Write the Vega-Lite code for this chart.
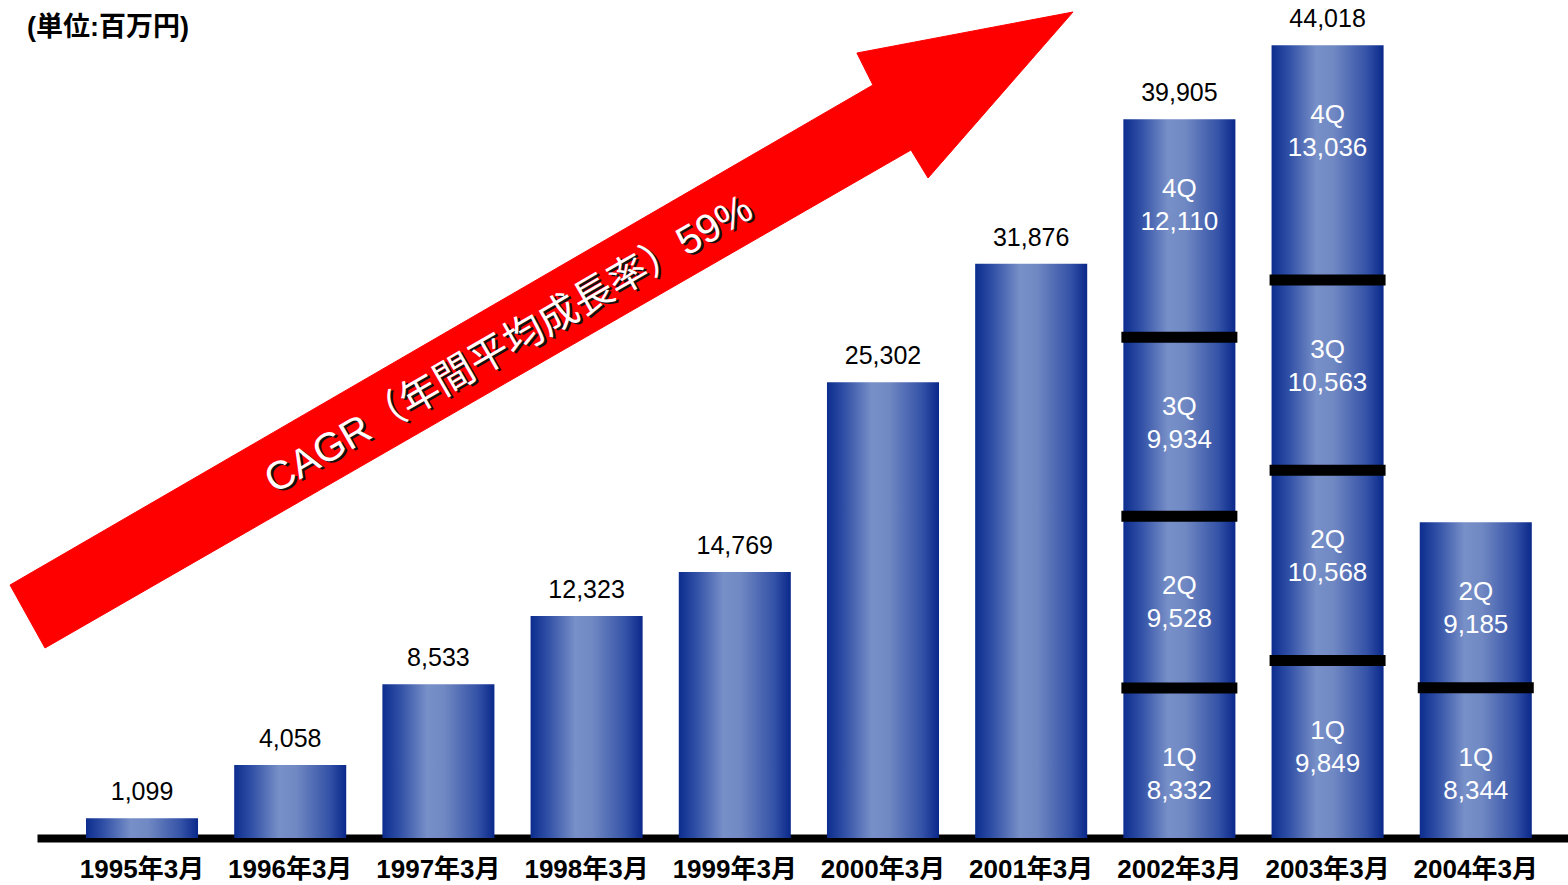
{
  "$schema": "https://vega.github.io/schema/vega-lite/v6.json",
  "width": 1531,
  "height": 838,
  "autosize": {"type": "none"},
  "padding": {"left": 37, "top": 0, "right": 0, "bottom": 47},
  "background": "white",
  "config": {"view": {"stroke": null}},
  "datasets": {
    "segments": [
      {"year": "1995年3月", "quarter": "通期", "value": 1099},
      {"year": "1996年3月", "quarter": "通期", "value": 4058},
      {"year": "1997年3月", "quarter": "通期", "value": 8533},
      {"year": "1998年3月", "quarter": "通期", "value": 12323},
      {"year": "1999年3月", "quarter": "通期", "value": 14769},
      {"year": "2000年3月", "quarter": "通期", "value": 25302},
      {"year": "2001年3月", "quarter": "通期", "value": 31876},
      {"year": "2002年3月", "quarter": "1Q", "value": 8332},
      {"year": "2002年3月", "quarter": "2Q", "value": 9528},
      {"year": "2002年3月", "quarter": "3Q", "value": 9934},
      {"year": "2002年3月", "quarter": "4Q", "value": 12110},
      {"year": "2003年3月", "quarter": "1Q", "value": 9849},
      {"year": "2003年3月", "quarter": "2Q", "value": 10568},
      {"year": "2003年3月", "quarter": "3Q", "value": 10563},
      {"year": "2003年3月", "quarter": "4Q", "value": 13036},
      {"year": "2004年3月", "quarter": "1Q", "value": 8344},
      {"year": "2004年3月", "quarter": "2Q", "value": 9185}
    ],
    "totals": [
      {"year": "1995年3月", "total": 1099},
      {"year": "1996年3月", "total": 4058},
      {"year": "1997年3月", "total": 8533},
      {"year": "1998年3月", "total": 12323},
      {"year": "1999年3月", "total": 14769},
      {"year": "2000年3月", "total": 25302},
      {"year": "2001年3月", "total": 31876},
      {"year": "2002年3月", "total": 39905},
      {"year": "2003年3月", "total": 44018}
    ],
    "arrow": [
      {"ord": 1, "px": 1994.113, "py": 14045},
      {"ord": 2, "px": 1999.935, "py": 41803},
      {"ord": 3, "px": 1999.827, "py": 43579},
      {"ord": 4, "px": 2001.285, "py": 45855},
      {"ord": 5, "px": 2000.307, "py": 36640},
      {"ord": 6, "px": 2000.192, "py": 38194},
      {"ord": 7, "px": 1994.349, "py": 10548},
      {"ord": 8, "px": 1994.113, "py": 14045}
    ],
    "cagr": [
      {"px": 1997.48, "py": 27369, "note": "CAGR（年間平均成長率）59%"}
    ],
    "unit": [
      {"px": 1994.227, "py": 44967, "note": "(単位:百万円)"}
    ]
  },
  "layer": [
    {
      "encoding": {
        "x": {
          "field": "year",
          "type": "nominal",
          "scale": {"paddingInner": 0.244, "paddingOuter": 0.2875, "align": 0.575},
          "axis": {
            "title": null,
            "labelAngle": 0,
            "labelFont": "Liberation Sans, Noto Sans CJK JP",
            "labelFontSize": 26,
            "labelFontWeight": "bold",
            "labelColor": "black",
            "labelPadding": 18,
            "ticks": false,
            "tickSize": 0,
            "domainColor": "black",
            "domainWidth": 8
          }
        }
      },
      "layer": [
        {
          "data": {"name": "segments"},
          "transform": [
            {"stack": "value", "groupby": ["year"], "sort": [{"field": "quarter", "order": "ascending"}], "as": ["v0", "v1"]}
          ],
          "mark": {
            "type": "bar",
            "fill": {
              "gradient": "linear",
              "x1": 0, "x2": 1, "y1": 0, "y2": 0,
              "stops": [
                {"offset": 0, "color": "#0c2d8e"},
                {"offset": 0.15, "color": "#2f4ea5"},
                {"offset": 0.4, "color": "#7890c8"},
                {"offset": 0.55, "color": "#7189c3"},
                {"offset": 0.85, "color": "#3452a7"},
                {"offset": 1, "color": "#09288a"}
              ]
            }
          },
          "encoding": {
            "y": {"field": "v1", "type": "quantitative", "scale": {"domain": [0, 46522], "nice": false, "zero": true}, "axis": null},
            "y2": {"field": "v0"}
          }
        },
        {
          "data": {"name": "segments"},
          "transform": [
            {"stack": "value", "groupby": ["year"], "sort": [{"field": "quarter", "order": "ascending"}], "as": ["v0", "v1"]},
            {"filter": "datum.v0 > 0"}
          ],
          "mark": {"type": "tick", "color": "black", "thickness": 11, "size": 116, "opacity": 1},
          "encoding": {
            "y": {"field": "v0", "type": "quantitative", "scale": {"domain": [0, 46522], "nice": false, "zero": true}, "axis": null}
          }
        },
        {
          "data": {"name": "segments"},
          "transform": [
            {"stack": "value", "groupby": ["year"], "sort": [{"field": "quarter", "order": "ascending"}], "as": ["v0", "v1"]},
            {"filter": "datum.quarter !== '通期'"}
          ],
          "mark": {"type": "text", "color": "white", "font": "Liberation Sans", "fontSize": 26, "baseline": "middle", "dy": 70},
          "encoding": {
            "y": {"field": "v1", "type": "quantitative", "scale": {"domain": [0, 46522], "nice": false, "zero": true}, "axis": null},
            "text": {"field": "quarter"}
          }
        },
        {
          "data": {"name": "segments"},
          "transform": [
            {"stack": "value", "groupby": ["year"], "sort": [{"field": "quarter", "order": "ascending"}], "as": ["v0", "v1"]},
            {"filter": "datum.quarter !== '通期'"}
          ],
          "mark": {"type": "text", "color": "white", "font": "Liberation Sans", "fontSize": 26, "baseline": "middle", "dy": 103},
          "encoding": {
            "y": {"field": "v1", "type": "quantitative", "scale": {"domain": [0, 46522], "nice": false, "zero": true}, "axis": null},
            "text": {"field": "value", "type": "quantitative", "format": ","}
          }
        },
        {
          "data": {"name": "totals"},
          "mark": {"type": "text", "color": "black", "font": "Liberation Sans", "fontSize": 25, "baseline": "alphabetic", "dy": -18},
          "encoding": {
            "y": {"field": "total", "type": "quantitative", "scale": {"domain": [0, 46522], "nice": false, "zero": true}, "axis": null},
            "text": {"field": "total", "type": "quantitative", "format": ","}
          }
        }
      ]
    },
    {
      "encoding": {
        "x": {"field": "px", "type": "quantitative", "scale": {"domain": [1994.295, 2004.625], "nice": false, "zero": false}, "axis": null},
        "y": {"field": "py", "type": "quantitative", "scale": {"domain": [0, 46522], "nice": false, "zero": true}, "axis": null}
      },
      "layer": [
        {
          "data": {"name": "arrow"},
          "mark": {"type": "line", "fill": "#ff0000", "stroke": "#ff0000", "strokeWidth": 1, "interpolate": "linear"},
          "encoding": {"order": {"field": "ord", "type": "quantitative"}}
        },
        {
          "data": {"name": "cagr"},
          "mark": {"type": "text", "color": "#111111", "font": "Liberation Sans, Noto Sans CJK JP", "fontSize": 40, "angle": 330, "align": "center", "baseline": "middle", "dx": 1.5, "dy": 2.5},
          "encoding": {"text": {"field": "note"}}
        },
        {
          "data": {"name": "cagr"},
          "mark": {"type": "text", "color": "white", "font": "Liberation Sans, Noto Sans CJK JP", "fontSize": 40, "angle": 330, "align": "center", "baseline": "middle"},
          "encoding": {"text": {"field": "note"}}
        },
        {
          "data": {"name": "unit"},
          "mark": {"type": "text", "color": "black", "font": "Liberation Sans, Noto Sans CJK JP", "fontSize": 27, "fontWeight": "bold", "align": "left", "baseline": "middle"},
          "encoding": {"text": {"field": "note"}}
        }
      ]
    }
  ],
  "resolve": {"scale": {"x": "independent"}}
}
